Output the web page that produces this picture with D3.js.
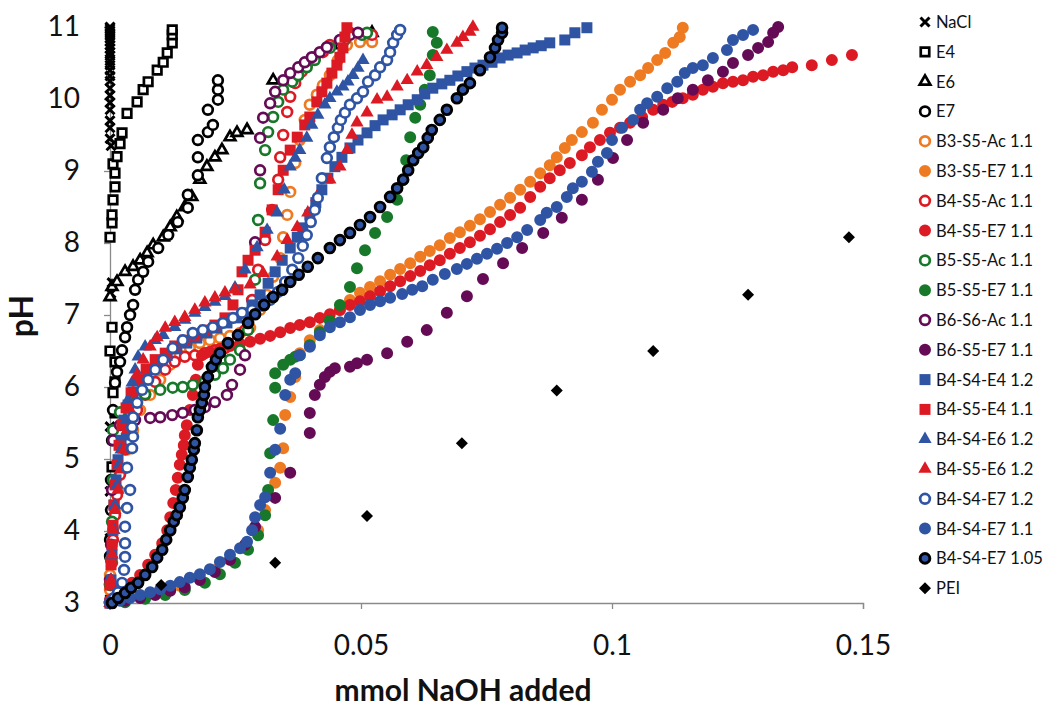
<!DOCTYPE html>
<html>
<head>
<meta charset="utf-8">
<script src="https://cdn.jsdelivr.net/npm/d3@7"></script>
<style>
  body { margin: 0; background: #fff; }
  svg { display: block; }
  text { font-family: Lato, "Open Sans", sans-serif; }
</style>
</head>
<body>
<svg id="chart" width="1050" height="711"></svg>
<script>
// [mmol NaOH, pH]
const nacl = [[0,3.05],[0,3.35],[0,3.9],[0,4.55],[0,5.45],[0.0002,7.3],[0.0004,7.45],[0.0002,9.35],[0,9.45],[0,9.6],[0,9.7],[0,9.85],[0,9.95],[0,10.05],[0,10.15],[0,10.25],[0,10.32],[0,10.4],[0,10.47],[0,10.53],[0,10.6],[0,10.65],[0,10.7],[0,10.75],[0,10.8],[0,10.84],[0,10.88],[0,10.92],[0,10.95],[0,10.98],[0,11]]

const e4 = [[0.0004,4.89],[0.001,5.64],[0.0006,5.92],[0.001,6.07],[0.001,6.35],[0,6.5],[0.0004,6.83],[0,8.08],[0.0004,8.28],[0.0004,8.39],[0.0006,8.6],[0.001,8.78],[0.001,8.97],[0.0006,9.1],[0.0014,9.2],[0.002,9.38],[0.0024,9.53],[0.0034,9.8],[0.0054,9.96],[0.0066,10.13],[0.0076,10.24],[0.0094,10.4],[0.0106,10.51],[0.0114,10.64],[0.0124,10.78],[0.0124,10.89],[0.0124,10.96]]

const e6 = [[0,7.25],[0.0004,7.39],[0.0014,7.46],[0.003,7.6],[0.0046,7.67],[0.006,7.76],[0.0074,7.86],[0.0086,7.97],[0.0106,8.08],[0.012,8.22],[0.0133,8.36],[0.0149,8.5],[0.0163,8.64],[0.0179,8.88],[0.0193,9.06],[0.0209,9.19],[0.0223,9.29],[0.0239,9.47],[0.0253,9.53],[0.0273,9.57],[0.0325,10.26],[0.0458,10.75],[0.0522,10.92]]

const e7 = [[0,3.25],[0,3.65],[0,3.88],[0.0002,4.29],[0.0002,4.71],[0.0004,5.26],[0.0006,5.68],[0.001,6.06],[0.0014,6.21],[0.002,6.35],[0.0024,6.51],[0.003,6.69],[0.0034,6.83],[0.004,7.0],[0.0046,7.14],[0.005,7.35],[0.0056,7.49],[0.0066,7.6],[0.0076,7.74],[0.0096,7.93],[0.0116,8.11],[0.0135,8.29],[0.0155,8.49],[0.0155,8.67],[0.0175,8.94],[0.0175,9.19],[0.0175,9.43],[0.0195,9.54],[0.0205,9.64],[0.0195,9.85],[0.0215,9.99],[0.0215,10.13],[0.0215,10.26]]

const b3s5Ac = [[0,3.0],[0,3.18],[0,3.39],[0.0002,3.6],[0.0004,3.81],[0.0006,4.01],[0.001,4.29],[0.0016,4.57],[0.0024,4.85],[0.0034,5.13],[0.0046,5.4],[0.006,5.68],[0.008,5.89],[0.01,6.1],[0.012,6.31],[0.0139,6.44],[0.0159,6.54],[0.0179,6.61],[0.0199,6.65],[0.0219,6.68],[0.0239,6.71],[0.0259,6.75],[0.0279,6.82],[0.0299,7.07],[0.0313,7.28],[0.0325,7.53],[0.0339,7.79],[0.0345,8.08],[0.0353,8.39],[0.0359,8.71],[0.0369,9.11],[0.0378,9.43],[0.0388,9.71],[0.0398,9.92],[0.0412,10.06],[0.0424,10.19],[0.0438,10.33],[0.0454,10.54],[0.0472,10.75],[0.0498,10.79],[0.0522,10.79]]

const b3s5E7 = [[0,3.0],[0.003,3.04],[0.006,3.08],[0.01,3.15],[0.0139,3.24],[0.0179,3.35],[0.0209,3.46],[0.0239,3.6],[0.0269,3.76],[0.0295,4.01],[0.0309,4.29],[0.0329,4.67],[0.0339,4.88],[0.0345,5.15],[0.0349,5.61],[0.0359,5.86],[0.0369,6.14],[0.0378,6.47],[0.0398,6.65],[0.0418,6.79],[0.0438,6.93],[0.0458,7.07],[0.0478,7.21],[0.0498,7.31],[0.0518,7.39],[0.0538,7.47],[0.0558,7.56],[0.0578,7.64],[0.0598,7.72],[0.0618,7.81],[0.0637,7.89],[0.0657,7.97],[0.0677,8.07],[0.0697,8.15],[0.0717,8.24],[0.0737,8.33],[0.0757,8.43],[0.0777,8.53],[0.0797,8.63],[0.0817,8.74],[0.0837,8.85],[0.0857,8.97],[0.0876,9.08],[0.089,9.19],[0.0906,9.32],[0.092,9.43],[0.094,9.54],[0.0962,9.67],[0.098,9.85],[0.1,9.99],[0.1016,10.13],[0.1036,10.24],[0.1056,10.33],[0.1072,10.43],[0.109,10.54],[0.1106,10.64],[0.1122,10.78],[0.1135,10.86],[0.1141,10.99]]

const b4s5Ac = [[0,3.0],[0.0002,3.25],[0.0004,3.56],[0.0006,3.88],[0.001,4.22],[0.0014,4.5],[0.002,4.78],[0.003,5.13],[0.004,5.4],[0.0054,5.68],[0.007,5.89],[0.009,6.07],[0.011,6.24],[0.0129,6.35],[0.0149,6.42],[0.0169,6.44],[0.0189,6.47],[0.0209,6.51],[0.0229,6.54],[0.0249,6.61],[0.0269,6.79],[0.0283,7.21],[0.0295,7.63],[0.0309,8.04],[0.0323,8.46],[0.0335,8.88],[0.0339,9.19],[0.0345,9.5],[0.0353,9.82],[0.0359,10.03],[0.0369,10.22],[0.0382,10.38],[0.0394,10.5],[0.0408,10.58],[0.0424,10.65],[0.0438,10.75],[0.0478,10.92],[0.0522,10.89]]

const b4s5E7 = [[0,3.04],[0.0016,3.11],[0.003,3.18],[0.0044,3.28],[0.006,3.39],[0.0076,3.53],[0.009,3.67],[0.0104,3.83],[0.0114,4.01],[0.012,4.19],[0.0126,4.39],[0.0131,4.57],[0.0135,4.74],[0.0139,4.92],[0.0143,5.06],[0.0147,5.19],[0.0149,5.33],[0.0153,5.47],[0.0159,5.68],[0.0165,5.89],[0.0171,6.1],[0.0175,6.31],[0.0183,6.44],[0.0199,6.49],[0.0219,6.53],[0.0239,6.57],[0.0259,6.6],[0.0279,6.63],[0.0299,6.67],[0.0319,6.71],[0.0339,6.76],[0.0359,6.82],[0.0378,6.86],[0.0398,6.9],[0.0418,6.96],[0.0438,7.01],[0.0458,7.07],[0.0478,7.14],[0.0498,7.19],[0.0518,7.26],[0.0538,7.33],[0.0558,7.4],[0.0578,7.47],[0.0598,7.54],[0.0618,7.61],[0.0637,7.69],[0.0657,7.76],[0.0677,7.85],[0.0697,7.93],[0.0717,8.01],[0.0737,8.1],[0.0757,8.19],[0.0777,8.29],[0.0797,8.39],[0.0817,8.49],[0.0837,8.64],[0.0857,8.78],[0.0876,8.9],[0.0896,9.01],[0.0916,9.11],[0.094,9.22],[0.0956,9.33],[0.0976,9.43],[0.0996,9.53],[0.1016,9.6],[0.1036,9.67],[0.106,9.75],[0.1082,9.85],[0.1102,9.92],[0.112,9.96],[0.1141,10.01],[0.1161,10.06],[0.1181,10.13],[0.1201,10.17],[0.1221,10.22],[0.1241,10.24],[0.1261,10.26],[0.1281,10.31],[0.1301,10.33],[0.1321,10.38],[0.1341,10.4],[0.1359,10.44],[0.1398,10.47],[0.1438,10.54],[0.1478,10.61]]

const b5s5Ac = [[0,3.0],[0,3.25],[0.0002,3.6],[0.0004,4.13],[0.0006,4.71],[0.0006,5.4],[0.002,5.65],[0.004,5.79],[0.007,5.9],[0.01,5.96],[0.0125,5.99],[0.0145,6.0],[0.0165,6.03],[0.0189,6.08],[0.0209,6.17],[0.0225,6.26],[0.0239,6.38],[0.0259,6.51],[0.0275,6.79],[0.0289,7.49],[0.0295,8.32],[0.0299,8.83],[0.0309,9.29],[0.0315,9.54],[0.0325,9.75],[0.0335,9.96],[0.0345,10.13],[0.0363,10.24],[0.0375,10.33],[0.0392,10.44],[0.0408,10.54],[0.0438,10.71],[0.0468,10.82],[0.0502,10.89],[0.0512,10.92]]

const b5s5E7 = [[0,3.0],[0.003,3.01],[0.007,3.06],[0.011,3.11],[0.0149,3.18],[0.0189,3.28],[0.0219,3.4],[0.0249,3.56],[0.0275,3.74],[0.0295,3.94],[0.0309,4.22],[0.0315,4.57],[0.0319,5.08],[0.0325,5.54],[0.0329,5.99],[0.0329,6.19],[0.0345,6.31],[0.0359,6.38],[0.0369,6.42],[0.0378,6.44],[0.0398,6.58],[0.0418,6.76],[0.0438,6.92],[0.0458,7.14],[0.0478,7.39],[0.0492,7.65],[0.0508,7.9],[0.0528,8.14],[0.0552,8.36],[0.0572,8.6],[0.0584,8.88],[0.059,9.15],[0.0598,9.47],[0.0608,9.74],[0.0618,9.92],[0.0627,10.13],[0.0637,10.33],[0.0643,10.61],[0.0651,10.78],[0.0643,10.93]]

const b6s6Ac = [[0,3.0],[0,3.32],[0.0002,3.81],[0.0004,4.57],[0.0006,5.26],[0.002,5.47],[0.005,5.54],[0.008,5.57],[0.01,5.58],[0.0124,5.61],[0.0145,5.64],[0.0169,5.68],[0.0189,5.72],[0.0209,5.79],[0.0233,5.89],[0.0243,6.03],[0.0259,6.24],[0.0269,6.44],[0.0289,8.01],[0.0299,9.01],[0.0299,9.46],[0.0305,9.74],[0.0319,9.94],[0.0329,10.1],[0.0345,10.26],[0.0359,10.36],[0.0375,10.44],[0.0388,10.51],[0.0402,10.58],[0.0418,10.65],[0.0432,10.72],[0.0458,10.82],[0.0478,10.89],[0.0494,10.92]]

const b6s5E7 = [[0,3.0],[0.003,3.03],[0.006,3.07],[0.009,3.11],[0.012,3.17],[0.0149,3.22],[0.0179,3.32],[0.0209,3.43],[0.0239,3.6],[0.0269,3.81],[0.0289,4.06],[0.0329,4.46],[0.0359,4.81],[0.0398,5.36],[0.0398,5.64],[0.0408,5.89],[0.0418,6.03],[0.0428,6.14],[0.0438,6.21],[0.0448,6.26],[0.0478,6.28],[0.0492,6.33],[0.0512,6.38],[0.0552,6.47],[0.0592,6.63],[0.0631,6.79],[0.0671,7.03],[0.0711,7.26],[0.0743,7.5],[0.0783,7.72],[0.0821,7.93],[0.0863,8.14],[0.09,8.35],[0.094,8.6],[0.0972,8.88],[0.1002,9.18],[0.103,9.43],[0.1062,9.67],[0.1102,9.85],[0.1131,10.01],[0.1161,10.13],[0.1191,10.26],[0.1221,10.38],[0.1241,10.5],[0.1271,10.61],[0.1291,10.71],[0.1311,10.79],[0.1321,10.92],[0.1331,11.0]]

const b4s4E4 = [[0,3.0],[0.0002,3.32],[0.0004,3.67],[0.0006,4.01],[0.0008,4.36],[0.0012,4.71],[0.0016,4.99],[0.0022,5.26],[0.0028,5.54],[0.0036,5.75],[0.0046,5.93],[0.006,6.1],[0.0076,6.24],[0.0094,6.35],[0.0114,6.44],[0.0133,6.53],[0.0153,6.61],[0.0173,6.68],[0.0193,6.75],[0.0213,6.82],[0.0233,6.89],[0.0253,6.96],[0.0269,7.03],[0.0283,7.14],[0.0299,7.28],[0.0315,7.44],[0.0329,7.6],[0.0343,7.76],[0.0359,7.93],[0.0373,8.08],[0.0384,8.21],[0.0398,8.39],[0.041,8.56],[0.0422,8.74],[0.0434,8.9],[0.0448,9.06],[0.0462,9.19],[0.0478,9.32],[0.0494,9.43],[0.0512,9.53],[0.0528,9.63],[0.0544,9.71],[0.0562,9.78],[0.0578,9.85],[0.0594,9.92],[0.0612,9.99],[0.0627,10.07],[0.0643,10.15],[0.0661,10.21],[0.0677,10.26],[0.0693,10.32],[0.0711,10.38],[0.0727,10.43],[0.0743,10.47],[0.0761,10.51],[0.0777,10.57],[0.0793,10.61],[0.0811,10.64],[0.0827,10.68],[0.0843,10.71],[0.0859,10.74],[0.0876,10.78],[0.0906,10.82],[0.0926,10.92],[0.095,10.99]]

const b4s5E4 = [[0,3.0],[0,3.25],[0.0002,3.53],[0.0004,3.81],[0.0006,4.08],[0.0008,4.36],[0.001,4.64],[0.0014,4.92],[0.0018,5.19],[0.0024,5.47],[0.0032,5.71],[0.0042,5.92],[0.0056,6.1],[0.0072,6.25],[0.009,6.38],[0.011,6.47],[0.0129,6.57],[0.0149,6.65],[0.0169,6.72],[0.0189,6.79],[0.0209,6.86],[0.0229,6.96],[0.0245,7.14],[0.0255,7.35],[0.0263,7.6],[0.0275,7.76],[0.0289,7.9],[0.0309,8.15],[0.0323,8.46],[0.0335,8.74],[0.0345,9.01],[0.0359,9.29],[0.0373,9.47],[0.0388,9.64],[0.0398,9.75],[0.0412,9.96],[0.0422,10.1],[0.0432,10.22],[0.0442,10.36],[0.0452,10.47],[0.0458,10.58],[0.0464,10.71],[0.0468,10.86],[0.0472,10.99]]

const b4s4E6 = [[0,3.0],[0.0002,3.32],[0.0004,3.67],[0.0008,4.01],[0.001,4.36],[0.0014,4.64],[0.0018,4.92],[0.0022,5.13],[0.0028,5.31],[0.0032,5.54],[0.0036,5.82],[0.0044,6.06],[0.005,6.24],[0.0056,6.42],[0.007,6.56],[0.009,6.65],[0.0106,6.72],[0.0129,6.83],[0.0149,6.93],[0.0169,7.03],[0.0189,7.11],[0.0209,7.18],[0.0229,7.26],[0.0249,7.38],[0.0269,7.63],[0.0293,7.94],[0.0313,8.18],[0.0333,8.42],[0.0347,8.74],[0.0359,9.06],[0.0369,9.18],[0.0378,9.29],[0.0392,9.46],[0.0402,9.64],[0.0414,9.78],[0.0428,9.92],[0.0438,10.01],[0.0452,10.1],[0.0464,10.17],[0.0474,10.24],[0.0484,10.33],[0.0494,10.43],[0.0504,10.54]]

const b4s5E6 = [[0,3.0],[0.0002,3.32],[0.0004,3.67],[0.0006,4.01],[0.001,4.29],[0.0016,4.57],[0.0022,4.85],[0.0028,5.13],[0.0034,5.4],[0.004,5.68],[0.0046,5.93],[0.0054,6.17],[0.0066,6.38],[0.008,6.56],[0.0094,6.69],[0.011,6.82],[0.0129,6.9],[0.0149,6.97],[0.0169,7.07],[0.0189,7.17],[0.0209,7.24],[0.0229,7.31],[0.0249,7.35],[0.0279,7.42],[0.0305,7.58],[0.0333,7.81],[0.0353,8.04],[0.0373,8.22],[0.0394,8.42],[0.0412,8.64],[0.0438,8.88],[0.0458,9.06],[0.0472,9.29],[0.0482,9.5],[0.0492,9.67],[0.0512,9.81],[0.0532,9.99],[0.0552,10.03],[0.0572,10.17],[0.0592,10.26],[0.0612,10.38],[0.0631,10.47],[0.0651,10.58],[0.0671,10.68],[0.0691,10.78],[0.0703,10.86],[0.0717,10.93],[0.0723,11.0]]

const b4s4E7_12 = [[0,3.0],[0.0008,3.07],[0.0016,3.15],[0.0024,3.28],[0.0028,3.46],[0.003,3.64],[0.003,3.83],[0.003,4.06],[0.0034,4.32],[0.004,4.57],[0.0034,4.88],[0.0044,5.15],[0.0046,5.31],[0.0044,5.44],[0.0046,5.58],[0.0054,5.78],[0.0064,5.96],[0.0076,6.1],[0.009,6.24],[0.0106,6.38],[0.0125,6.54],[0.0145,6.65],[0.0165,6.75],[0.0185,6.79],[0.0205,6.83],[0.0225,6.89],[0.0245,6.96],[0.0263,7.03],[0.0283,7.07],[0.0303,7.13],[0.0319,7.21],[0.0335,7.32],[0.0349,7.46],[0.0363,7.63],[0.0375,7.79],[0.0384,7.96],[0.0392,8.11],[0.04,8.29],[0.0408,8.46],[0.0414,8.63],[0.0422,8.9],[0.0432,9.18],[0.0438,9.33],[0.0446,9.47],[0.0454,9.6],[0.046,9.71],[0.0468,9.81],[0.0478,9.92],[0.0492,10.01],[0.0504,10.1],[0.0514,10.24],[0.0528,10.33],[0.0538,10.44],[0.0552,10.54],[0.0558,10.65],[0.0564,10.78],[0.0572,10.89],[0.0578,10.96]]

const b4s4E7_11 = [[0.0004,3.0],[0.002,3.03],[0.004,3.07],[0.006,3.11],[0.008,3.15],[0.01,3.19],[0.012,3.24],[0.0139,3.29],[0.0159,3.35],[0.0179,3.4],[0.0199,3.47],[0.0219,3.57],[0.0239,3.67],[0.0259,3.76],[0.0273,3.85],[0.0283,4.01],[0.0289,4.19],[0.0299,4.36],[0.0309,4.47],[0.0319,4.81],[0.0329,5.13],[0.0339,5.42],[0.0349,5.89],[0.0359,6.1],[0.0369,6.19],[0.0378,6.44],[0.0398,6.56],[0.0418,6.72],[0.0438,6.83],[0.0458,6.9],[0.0478,6.97],[0.0498,7.07],[0.0518,7.14],[0.0538,7.19],[0.0558,7.24],[0.0582,7.29],[0.0602,7.35],[0.0622,7.4],[0.0643,7.49],[0.0667,7.57],[0.0691,7.64],[0.0711,7.71],[0.0731,7.78],[0.0751,7.85],[0.0771,7.92],[0.0791,8.0],[0.0811,8.08],[0.0831,8.18],[0.0857,8.32],[0.087,8.42],[0.089,8.5],[0.091,8.64],[0.0922,8.76],[0.094,8.85],[0.096,8.99],[0.0972,9.13],[0.099,9.25],[0.1,9.43],[0.102,9.6],[0.1042,9.71],[0.1056,9.85],[0.107,9.94],[0.109,10.03],[0.111,10.15],[0.113,10.24],[0.1145,10.36],[0.1161,10.43],[0.1181,10.47],[0.1201,10.57],[0.1229,10.68],[0.1241,10.82],[0.1261,10.89],[0.1281,10.96]]

const b4s4E7_105 = [[0.0004,3.0],[0.0016,3.07],[0.003,3.14],[0.0042,3.21],[0.0056,3.28],[0.007,3.39],[0.0084,3.5],[0.0094,3.63],[0.0104,3.74],[0.0112,3.88],[0.012,4.01],[0.0127,4.13],[0.0133,4.22],[0.0139,4.33],[0.0145,4.46],[0.0149,4.57],[0.0155,4.75],[0.0159,4.88],[0.0163,4.99],[0.0167,5.13],[0.0169,5.22],[0.0173,5.4],[0.0175,5.58],[0.0179,5.68],[0.0183,5.78],[0.0187,5.89],[0.0189,6.0],[0.0195,6.14],[0.0203,6.28],[0.0211,6.38],[0.0219,6.47],[0.0235,6.61],[0.0255,6.72],[0.0275,6.89],[0.0289,7.01],[0.0307,7.14],[0.0325,7.25],[0.0343,7.35],[0.0359,7.46],[0.0376,7.56],[0.0394,7.67],[0.0414,7.79],[0.0438,7.93],[0.0458,8.04],[0.0478,8.14],[0.0498,8.25],[0.0518,8.36],[0.0538,8.5],[0.0558,8.64],[0.0572,8.76],[0.0584,8.88],[0.0594,9.01],[0.0604,9.15],[0.0614,9.25],[0.0624,9.33],[0.0633,9.46],[0.0641,9.57],[0.0657,9.71],[0.0671,9.85],[0.0691,10.01],[0.0703,10.13],[0.0717,10.22],[0.0737,10.4],[0.0757,10.58],[0.0767,10.71],[0.0773,10.82],[0.0781,10.92],[0.0781,10.99]]

const pei = [[0.0102,3.25],[0.0329,3.56],[0.0512,4.21],[0.0701,5.22],[0.089,5.95],[0.1082,6.5],[0.1271,7.28],[0.1472,8.08]]

const xTicks = [0, 0.05, 0.1, 0.15]
const xTickLabels = ['0', '0.05', '0.1', '0.15']
const yTicks = [3, 4, 5, 6, 7, 8, 9, 10, 11]

const orange = '#ee7a22', red = '#dc1a24', green = '#17782a', purple = '#650b55', blue = '#2f54a4'

// legend order is also draw order (later series on top)
const series = [
  { name: 'NaCl', data: nacl, shape: 'x', color: '#000' },
  { name: 'E4', data: e4, shape: 'square', color: '#000', open: true },
  { name: 'E6', data: e6, shape: 'triangle', color: '#000', open: true },
  { name: 'E7', data: e7, shape: 'circle', color: '#000', open: true },
  { name: 'B3-S5-Ac 1.1', data: b3s5Ac, shape: 'circle', color: orange, open: true },
  { name: 'B3-S5-E7 1.1', data: b3s5E7, shape: 'circle', color: orange },
  { name: 'B4-S5-Ac 1.1', data: b4s5Ac, shape: 'circle', color: red, open: true },
  { name: 'B4-S5-E7 1.1', data: b4s5E7, shape: 'circle', color: red },
  { name: 'B5-S5-Ac 1.1', data: b5s5Ac, shape: 'circle', color: green, open: true },
  { name: 'B5-S5-E7 1.1', data: b5s5E7, shape: 'circle', color: green },
  { name: 'B6-S6-Ac 1.1', data: b6s6Ac, shape: 'circle', color: purple, open: true },
  { name: 'B6-S5-E7 1.1', data: b6s5E7, shape: 'circle', color: purple },
  { name: 'B4-S4-E4 1.2', data: b4s4E4, shape: 'square', color: blue },
  { name: 'B4-S5-E4 1.1', data: b4s5E4, shape: 'square', color: red },
  { name: 'B4-S4-E6 1.2', data: b4s4E6, shape: 'triangle', color: blue },
  { name: 'B4-S5-E6 1.2', data: b4s5E6, shape: 'triangle', color: red },
  { name: 'B4-S4-E7 1.2', data: b4s4E7_12, shape: 'circle', color: blue, open: true },
  { name: 'B4-S4-E7 1.1', data: b4s4E7_11, shape: 'circle', color: blue },
  { name: 'B4-S4-E7 1.05', data: b4s4E7_105, shape: 'circle', color: blue, ring: '#000' },
  { name: 'PEI', data: pei, shape: 'diamond', color: '#000' }
]

const svg = d3.select('#chart')
const axisColor = '#8a8a8a'

const x = d3.scaleLinear().domain([0, 0.15]).range([110, 863])
const y = d3.scaleLinear().domain([3, 11]).range([603, 27])

// y axis
const yAxis = svg.append('g')
  .attr('transform', `translate(${x(0)},0)`)
  .call(d3.axisLeft(y).tickValues(yTicks).tickFormat(d3.format('d')).tickSize(6).tickPadding(24))
yAxis.select('.domain').attr('stroke', axisColor).attr('stroke-width', 1.3)
yAxis.selectAll('.tick line').attr('stroke', axisColor).attr('stroke-width', 1.3)
yAxis.selectAll('.tick text')
  .attr('fill', '#111')
  .style('font-size', '28px')
  .style('font-family', 'Lato, sans-serif')

// x axis
const xAxis = svg.append('g')
  .attr('transform', `translate(0,${y(3)})`)
  .call(d3.axisBottom(x).tickValues(xTicks).tickFormat((d, i) => xTickLabels[i]).tickSize(6).tickPadding(26))
xAxis.select('.domain').attr('stroke', axisColor).attr('stroke-width', 1.3)
xAxis.selectAll('.tick line').attr('stroke', axisColor).attr('stroke-width', 1.3)
xAxis.selectAll('.tick text')
  .attr('fill', '#111')
  .style('font-size', '28px')
  .style('font-family', 'Lato, sans-serif')

// axis titles
svg.append('text')
  .attr('x', 463)
  .attr('y', 701)
  .attr('text-anchor', 'middle')
  .style('font-size', '30px')
  .style('font-weight', 'bold')
  .attr('fill', '#111')
  .text('mmol NaOH added')

svg.append('text')
  .attr('transform', 'translate(33,316) rotate(-90)')
  .attr('text-anchor', 'middle')
  .style('font-size', '32px')
  .style('font-weight', 'bold')
  .attr('fill', '#111')
  .text('pH')

// marker drawing
function drawMarker(sel, s) {
  if (s.shape === 'x') {
    sel.append('path')
      .attr('d', 'M-4.5,-4.5L4.5,4.5M-4.5,4.5L4.5,-4.5')
      .attr('stroke', s.color)
      .attr('stroke-width', 3)
      .attr('fill', 'none')
    return
  }
  let type = d3.symbolCircle, size = 113
  if (s.shape === 'square') { type = d3.symbolSquare; size = s.open ? 72 : 121 }
  if (s.shape === 'triangle') { type = d3.symbolTriangle; size = s.open ? 50 : 76 }
  if (s.shape === 'diamond') { type = d3.symbolSquare; size = 72 }
  if (s.shape === 'circle' && (s.open || s.ring)) size = 74

  const p = sel.append('path')
    .attr('d', d3.symbol().type(type).size(size)())
  if (s.shape === 'diamond') p.attr('transform', 'rotate(45)')

  if (s.open) {
    p.attr('fill', '#fff').attr('stroke', s.color).attr('stroke-width', 2.7)
  } else if (s.ring) {
    p.attr('fill', s.color).attr('stroke', s.ring).attr('stroke-width', 2.9)
  } else {
    p.attr('fill', s.color)
  }
}

const plot = svg.append('g')
series.forEach(s => {
  const g = plot.append('g').attr('class', 'series')
  g.selectAll('g')
    .data(s.data)
    .join('g')
    .attr('transform', d => `translate(${x(d[0])},${y(d[1])})`)
    .each(function () { drawMarker(d3.select(this), s) })
})

// legend
const legend = svg.append('g').attr('class', 'legend')
const legendItem = legend.selectAll('g')
  .data(series)
  .join('g')
  .attr('transform', (d, i) => `translate(925,${22 + i * 29.8})`)

legendItem.each(function (s) { drawMarker(d3.select(this), s) })

legendItem.append('text')
  .attr('x', 11)
  .attr('dy', '0.36em')
  .style('font-size', '16.5px')
  .attr('fill', '#111')
  .text(d => d.name)
</script>
</body>
</html>
